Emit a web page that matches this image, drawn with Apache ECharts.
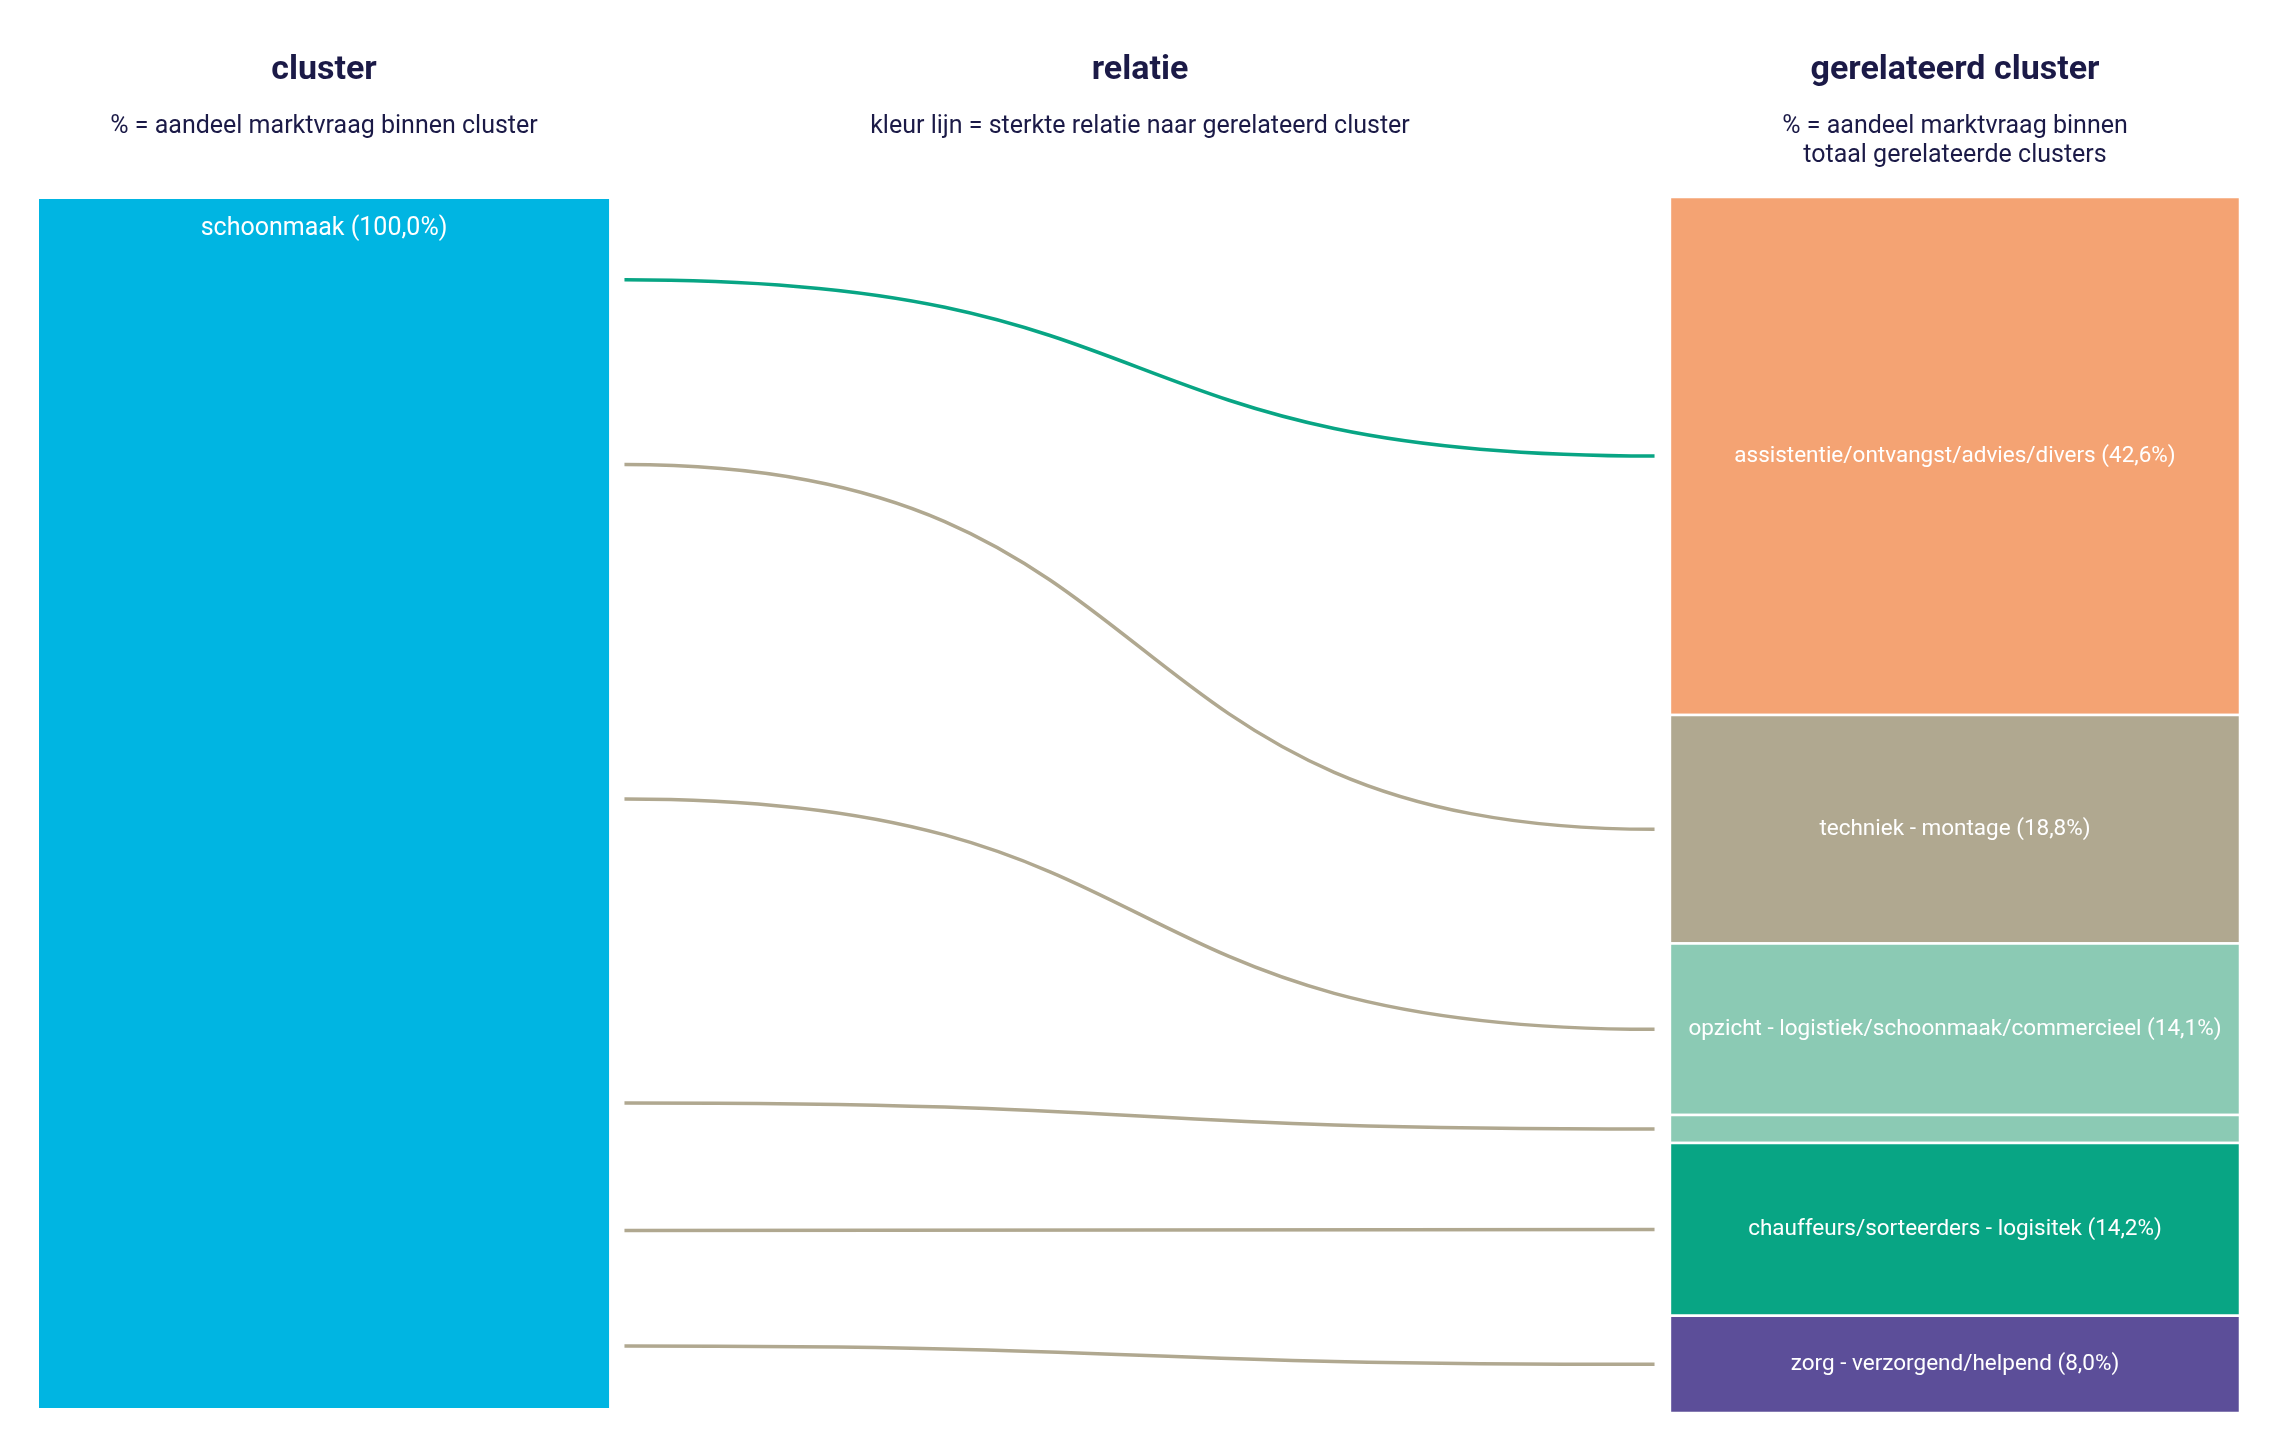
<!DOCTYPE html>
<html><head><meta charset="utf-8">
<script src="https://cdn.jsdelivr.net/npm/echarts@6/dist/echarts.min.js"></script>
<style>html,body{margin:0;padding:0;background:#fff}#c{width:2281px;height:1452px}</style>
</head><body><div id="c"></div>
<script>
// ---- data ----
const sourceName = 'schoonmaak';
const sourceShare = 100.0;
const targetNames = [
  'assistentie/ontvangst/advies/divers',
  'techniek - montage',
  'opzicht - logistiek/schoonmaak/commercieel',
  '',
  'chauffeurs/sorteerders - logisitek',
  'zorg - verzorgend/helpend'
];
const targetShares = [42.6, 18.8, 14.1, 2.3, 14.2, 8.0];
// where each relation line leaves the source bar (% of the bar, from top)
const linkSourceAnchors = [6.8, 22.0, 49.5, 74.5, 85.0, 94.5];
const linkStrength = ['sterk', 'zwak', 'zwak', 'zwak', 'zwak', 'zwak'];

const headers = ['cluster', 'relatie', 'gerelateerd cluster'];
const subHeaders = [
  '% = aandeel marktvraag binnen cluster',
  'kleur lijn = sterkte relatie naar gerelateerd cluster',
  '% = aandeel marktvraag binnen\ntotaal gerelateerde clusters'
];

// ---- styles ----
const sourceColor = '#00b5e2';
const targetColors = ['#f4a373', '#b0a890', '#8bcab4', '#8bcab4', '#08a584', '#5c4e99'];
const strengthColors = { sterk: '#08a584', zwak: '#b0a890' };
const ink = '#1b1a47';
const FONT = 'Roboto';

// x layout in axis units (0..100)
const X_LEFT0 = 0, X_LEFT1 = 25.9;
const X_LINK0 = 26.6, X_LINK1 = 73.4;
const X_RIGHT0 = 74.1, X_RIGHT1 = 100;
const SRC_INSET_TOP = 2, SRC_INSET_BOTTOM = 5; // px

const fmt = v => v.toFixed(1).replace('.', ',') + '%';

// cumulative stacking of targets
let acc = 0;
const targetData = targetShares.map((v, i) => { const d = [acc, acc + v, i]; acc += v; return d; });
const linkData = linkSourceAnchors.map((a, i) => [a, (targetData[i][0] + targetData[i][1]) / 2, i]);

const chart = echarts.init(document.getElementById('c'), null, { renderer: 'canvas' });

const colCenters = [(39 + 609) / 2, 1140, (1670 + 2240) / 2];
const graphics = [];
headers.forEach((h, i) => {
  graphics.push({ type: 'text', x: colCenters[i], y: 70, style: { text: h, fill: ink, font: 'bold 34px ' + FONT, textAlign: 'center', textVerticalAlign: 'middle' } });
  graphics.push({ type: 'text', x: colCenters[i], y: 112, style: { text: subHeaders[i], fill: ink, font: '25px ' + FONT, textAlign: 'center', textVerticalAlign: 'top', lineHeight: 29 } });
});

chart.setOption({
  backgroundColor: '#fff',
  animation: false,
  graphic: graphics,
  grid: { left: 39, right: 41, top: 197, bottom: 39 },
  xAxis: { type: 'value', min: 0, max: 100, show: false },
  yAxis: { type: 'value', min: 0, max: 100, inverse: true, show: false },
  series: [
    {
      type: 'custom', clip: false,
      data: [[0, sourceShare]],
      renderItem(params, api) {
        const a = api.coord([X_LEFT0, api.value(0)]);
        const b = api.coord([X_LEFT1, api.value(1)]);
        const top = a[1] + SRC_INSET_TOP, bottom = b[1] - SRC_INSET_BOTTOM;
        return {
          type: 'rect',
          shape: { x: a[0], y: top, width: b[0] - a[0], height: bottom - top },
          style: { fill: sourceColor },
          textContent: { style: { text: sourceName + ' (' + fmt(sourceShare) + ')', fill: '#fff', font: '25px ' + FONT } },
          textConfig: { position: 'insideTop', distance: 17 }
        };
      }
    },
    {
      type: 'custom', clip: false,
      data: linkData,
      renderItem(params, api) {
        const i = api.value(2);
        const p0 = api.coord([X_LINK0, api.value(0)]);
        const p1 = api.coord([X_LINK1, api.value(1)]);
        const dx = p1[0] - p0[0];
        return {
          type: 'bezierCurve',
          shape: { x1: p0[0], y1: p0[1], x2: p1[0], y2: p1[1], cpx1: p0[0] + dx * 0.55, cpy1: p0[1], cpx2: p1[0] - dx * 0.55, cpy2: p1[1] },
          style: { stroke: strengthColors[linkStrength[i]], lineWidth: 3.5, fill: null }
        };
      }
    },
    {
      type: 'custom', clip: false,
      data: targetData,
      renderItem(params, api) {
        const i = api.value(2);
        const a = api.coord([X_RIGHT0, api.value(0)]);
        const b = api.coord([X_RIGHT1, api.value(1)]);
        const name = targetNames[i];
        const el = {
          type: 'rect',
          shape: { x: a[0], y: a[1], width: b[0] - a[0], height: b[1] - a[1] },
          style: { fill: targetColors[i], stroke: '#fff', lineWidth: 2.5 }
        };
        if (name) {
          el.textContent = { style: { text: name + ' (' + fmt(targetShares[i]) + ')', fill: '#fff', font: '22.5px ' + FONT } };
          el.textConfig = { position: 'inside' };
        }
        return el;
      }
    }
  ]
});
</script>
</body></html>
